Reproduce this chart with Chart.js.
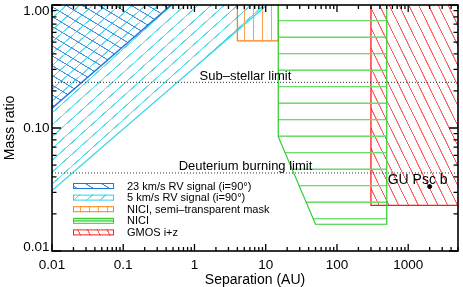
<!DOCTYPE html>
<html><head><meta charset="utf-8">
<script src="https://cdn.jsdelivr.net/npm/chart.js@4/dist/chart.umd.min.js"></script>
<style>html,body{margin:0;padding:0;background:#fff}#wrap{width:463px;height:287px;position:relative}</style>
</head><body><div id="wrap"><canvas id="c" width="463" height="287"></canvas></div>
<script>
// ---- data ----
const xTickLabels = ['0.01', '0.1', '1', '10', '100', '1000'];
const yTickLabels = ['0.01', '0.10', '1.00'];
const legendLabels = ['23 km/s RV signal (i=90°)', '5 km/s RV signal (i=90°)', 'NICI, semi–transparent mask', 'NICI', 'GMOS i+z'];
const rv23Sep = [0.01, 0.47];
const rv23Q = [0.145, 1.0];
const rv5Sep = [0.01, 10.4];
const rv5Q = [0.031, 1.0];
const maskSep = [4, 4, 15, 15];
const maskQ = [1.0, 0.51, 0.51, 1.0];
const niciSep = [15, 15, 50, 500, 500];
const niciQ = [1.0, 0.085, 0.0165, 0.0165, 1.0];
const gmosSep = [300, 300, 5000];
const gmosQ = [1.0, 0.0235, 0.0235];
const limitNames = ['Sub–stellar limit', 'Deuterium burning limit'];
const limitQ = [0.235, 0.0431];
const limitLabelSep = [5.2, 5.2];
const objectNames = ['GU Psc b'];
const objectSep = [2000];
const objectQ = [0.0334];
const xRange = [0.01, 5000];
const yRange = [0.01, 1.0];

const canvas = document.getElementById('c');
const ctx = canvas.getContext('2d');
const FONT = '"Liberation Sans", Arial, Helvetica, sans-serif';

function hatch(color, spacing, angle, lw, off) {
  const S = 64;
  const c = document.createElement('canvas'); c.width = S; c.height = S;
  const g = c.getContext('2d');
  g.strokeStyle = color; g.lineWidth = lw * S / spacing;
  g.beginPath(); g.moveTo(0, S / 2); g.lineTo(S, S / 2); g.stroke();
  const p = ctx.createPattern(c, 'repeat');
  const k = spacing / S;
  p.setTransform(new DOMMatrix().rotate(angle).translate(0, off || 0).scale(k, k));
  return p;
}
const colors = {
  blue: '#1f78d8', blueH: '#3d8fe6',
  cyan: '#35d4e4', cyanH: '#4fdbe9',
  orange: '#ff7f10', orangeH: '#ffa050',
  green: '#2ecc2e', greenH: '#6ddc6d',
  red: '#ff1a1a', redH: '#ff5c5c'
};
const pat = {
  blue: hatch(colors.blueH, 8.4, 31, 1, 0),
  cyan: hatch(colors.cyanH, 8.8, -42, 1, 0),
  orange: hatch(colors.orangeH, 9.1, 90, 1, -3.15),
  green: hatch(colors.greenH, 16.5, 0, 1.4, 12.45),
  red: hatch(colors.redH, 8.8, 64, 1, 0)
};
const pts = (xs, ys) => xs.map((x, i) => ({x: x, y: ys[i]}));
const region = (xs, ys, border, bg, bw, order) => ({
  data: pts(xs, ys), borderColor: border, backgroundColor: bg, borderWidth: bw,
  pointRadius: 0, showLine: true, fill: 'end', tension: 0, order: order
});
const datasets = [
  region(rv5Sep, rv5Q, colors.cyan, pat.cyan, 1.2, 10),
  region(rv23Sep, rv23Q, colors.blue, pat.blue, 1.5, 9),
  region(maskSep, maskQ, colors.orange, pat.orange, 1.2, 8),
  region(gmosSep, gmosQ, colors.red, pat.red, 1.3, 7),
  region(niciSep, niciQ, colors.green, pat.green, 1.2, 6),
];
limitQ.forEach((q, i) => datasets.push({
  data: pts(xRange, [q, q]), borderColor: '#333', borderWidth: 1, borderDash: [1, 2],
  pointRadius: 0, showLine: true, fill: false, order: 2
}));
datasets.push({data: pts(objectSep, objectQ), backgroundColor: '#000', borderColor: '#000',
  pointRadius: 2, showLine: false, order: 1});

const overlay = {
  id: 'overlay',
  afterDraw(chart) {
    const c = chart.ctx, a = chart.chartArea, xs = chart.scales.x, ys = chart.scales.y;
    c.save();
    // annotations
    c.fillStyle = '#000'; c.textAlign = 'center'; c.textBaseline = 'alphabetic';
    c.font = '13px ' + FONT;
    limitNames.forEach((t, i) => {
      c.fillText(t, xs.getPixelForValue(limitLabelSep[i]), ys.getPixelForValue(limitQ[i]) - 2.5);
    });
    c.font = '14px ' + FONT;
    objectNames.forEach((t, i) => {
      c.fillText(t, xs.getPixelForValue(objectSep[i]) - 12, ys.getPixelForValue(objectQ[i]) - 3);
    });
    // legend
    const lx = 73, lw = 41, lh = 6, ly0 = 186, dy = 11.6;
    const lb = [[colors.blue, pat.blue], [colors.cyan, pat.cyan], [colors.orange, pat.orange], [colors.green, pat.green], [colors.red, pat.red]];
    c.font = '11px ' + FONT; c.textAlign = 'left'; c.textBaseline = 'middle';
    legendLabels.forEach((t, i) => {
      const cy = ly0 + i * dy;
      c.fillStyle = '#fff'; c.fillRect(lx, cy - lh / 2, lw, lh);
      c.fillStyle = lb[i][1]; c.fillRect(lx, cy - lh / 2, lw, lh);
      if (i === 3) { c.strokeStyle = colors.green; c.lineWidth = 1.2; c.beginPath(); c.moveTo(lx, cy); c.lineTo(lx + lw, cy); c.stroke(); }
      c.strokeStyle = lb[i][0]; c.lineWidth = 1; c.strokeRect(lx + 0.5, cy - lh / 2 + 0.5, lw - 1, lh - 1);
      c.fillStyle = '#000'; c.fillText(t, 127, cy + 0.5);
    });
    // frame
    c.strokeStyle = '#000'; c.lineWidth = 1.6;
    c.strokeRect(a.left, a.top, a.right - a.left, a.bottom - a.top);
    // ticks
    c.lineWidth = 1.3;
    c.beginPath();
    for (let e = -2; e <= 3; e++) for (let m = 1; m <= 9; m++) {
      const v = m * Math.pow(10, e);
      if (v < xRange[0] * 0.999 || v > xRange[1] * 1.001) continue;
      const p = xs.getPixelForValue(v), L = m === 1 ? 7 : 4;
      c.moveTo(p, a.bottom); c.lineTo(p, a.bottom - L);
      c.moveTo(p, a.top); c.lineTo(p, a.top + L);
    }
    for (let e = -2; e <= 0; e++) for (let m = 1; m <= 9; m++) {
      const v = m * Math.pow(10, e);
      if (v < yRange[0] * 0.999 || v > yRange[1] * 1.001) continue;
      const p = ys.getPixelForValue(v), L = m === 1 ? 9 : 4.5;
      c.moveTo(a.left, p); c.lineTo(a.left + L, p);
      c.moveTo(a.right, p); c.lineTo(a.right - L, p);
    }
    c.stroke();
    // y tick labels
    c.fillStyle = '#000'; c.font = '13.5px ' + FONT; c.textAlign = 'right'; c.textBaseline = 'middle';
    yTickLabels.forEach(t => {
      let p = ys.getPixelForValue(parseFloat(t));
      p = Math.min(Math.max(p, a.top + 6), a.bottom - 4);
      c.fillText(t, a.left - 2.5, p);
    });
    c.restore();
  }
};

new Chart(canvas, {
  type: 'scatter',
  data: {datasets: datasets},
  options: {
    responsive: false, animation: false, devicePixelRatio: 1,
    layout: {padding: {left: 0, right: 2, top: 3, bottom: 0}},
    plugins: {legend: {display: false}, tooltip: {enabled: false}},
    scales: {
      x: {
        type: 'logarithmic', min: xRange[0], max: xRange[1], position: 'bottom',
        grid: {display: false}, border: {display: false},
        afterBuildTicks: s => { s.ticks = xTickLabels.map(t => ({value: parseFloat(t)})); },
        ticks: {autoSkip: false, maxRotation: 0, padding: -1.5, color: '#000',
          font: {family: FONT, size: 13.5}, callback: (v, i) => xTickLabels[i]},
        title: {display: true, text: 'Separation (AU)', color: '#000', padding: 0,
          font: {family: FONT, size: 14, lineHeight: 1}},
        afterFit: s => { s.height = 36; }
      },
      y: {
        type: 'logarithmic', min: yRange[0], max: yRange[1], position: 'left',
        grid: {display: false}, border: {display: false},
        afterBuildTicks: s => { s.ticks = yTickLabels.map(t => ({value: parseFloat(t)})); },
        ticks: {display: false},
        title: {display: true, text: 'Mass ratio', color: '#000', padding: {top: 3, bottom: 0},
          font: {family: FONT, size: 14, lineHeight: 1}},
        afterFit: s => { s.width = 52; }
      }
    }
  },
  plugins: [overlay]
});
</script>
</body></html>
